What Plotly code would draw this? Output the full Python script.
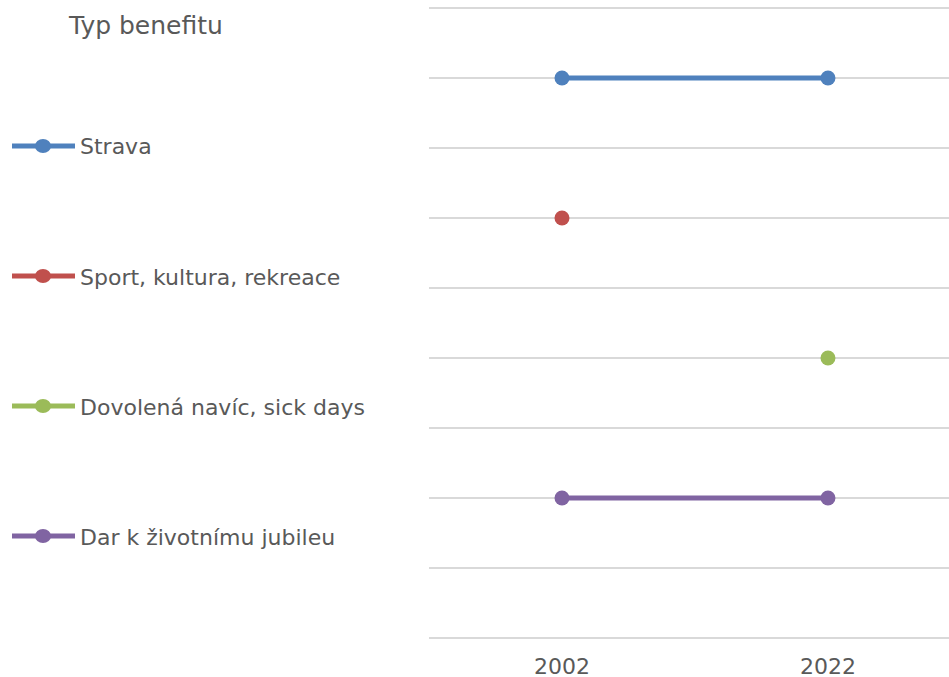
import plotly.graph_objects as go

# Data
years = ["2002", "2022"]
series_names = ["Strava", "Sport, kultura, rekreace", "Dovolená navíc, sick days", "Dar k životnímu jubileu"]
strava = [8, 8]
sport = [6, None]
dovolena = [None, 4]
dar = [2, 2]
series_values = [strava, sport, dovolena, dar]
colors = ["#4F81BD", "#C0504D", "#9BBB59", "#8064A2"]
legend_title = "Typ benefitu"

W, H = 949, 677
TEXT = "#595959"
FONT = "DejaVu Sans"


def px_x(p):
    return p / W


def px_y(p):
    return (H - p) / H


fig = go.Figure()
for name, vals, col in zip(series_names, series_values, colors):
    fig.add_trace(go.Scatter(
        x=years, y=vals, name=name, mode="lines+markers",
        line=dict(color=col, width=5),
        marker=dict(color=col, size=15),
        connectgaps=False, showlegend=False,
    ))

# Legend drawn on the left side
shapes = []
annotations = []
legend_rows = [146, 276, 406, 536]
for name, col, yy in zip(series_names, colors, legend_rows):
    shapes.append(dict(type="line", xref="paper", yref="paper",
                       x0=px_x(12), x1=px_x(75), y0=px_y(yy), y1=px_y(yy),
                       line=dict(color=col, width=5)))
    shapes.append(dict(type="circle", xref="paper", yref="paper",
                       xsizemode="pixel", ysizemode="pixel",
                       xanchor=px_x(43), yanchor=px_y(yy),
                       x0=-8, x1=8, y0=-7, y1=7,
                       fillcolor=col, line=dict(width=0)))
    annotations.append(dict(xref="paper", yref="paper", x=px_x(78), y=px_y(yy + 1),
                            xanchor="left", yanchor="middle", showarrow=False,
                            text=name, font=dict(family=FONT, size=22, color=TEXT)))
annotations.append(dict(xref="paper", yref="paper", x=px_x(66), y=px_y(25),
                        xanchor="left", yanchor="middle", showarrow=False,
                        text=legend_title, font=dict(family=FONT, size=25, color=TEXT)))

fig.update_layout(
    width=W, height=H,
    margin=dict(l=0, r=0, t=0, b=0, autoexpand=False),
    plot_bgcolor="white", paper_bgcolor="white",
    showlegend=False,
    shapes=shapes, annotations=annotations,
    font=dict(family=FONT, color=TEXT),
    xaxis=dict(domain=[px_x(429), 1], type="category", range=[-0.5, 1.455],
               automargin=False,
               showgrid=False, zeroline=False, showline=False, ticks="",
               ticklabelstandoff=9,
               tickfont=dict(size=22, color=TEXT)),
    yaxis=dict(domain=[px_y(641.5), px_y(4.5)], range=[-0.05, 9.05], dtick=1, tick0=0,
               automargin=False,
               showticklabels=False, showgrid=True, gridcolor="#D9D9D9", gridwidth=1.5,
               zeroline=False, showline=False, ticks=""),
)

fig.write_html("out.html")
